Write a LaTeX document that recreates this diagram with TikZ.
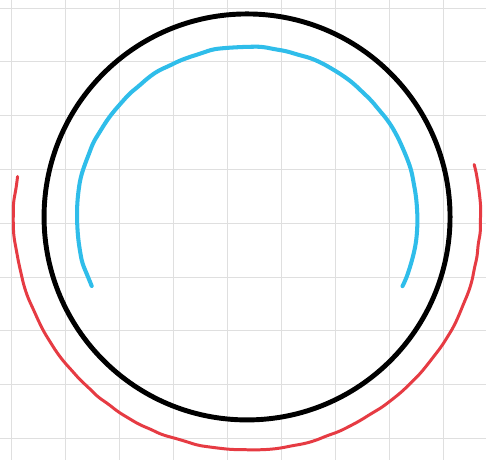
\documentclass[tikz,border=0pt]{standalone}
\usepackage{tikz}
\usetikzlibrary{decorations.pathmorphing}
\definecolor{arcblue}{HTML}{2FBDEA}
\definecolor{arcred}{HTML}{E63B43}

\begin{document}
\begin{tikzpicture}[scale=0.02,
    gridline/.style={draw=gray!25,line width=0.55pt},
    wobbly/.style={decorate,decoration={random steps,segment length=7pt,amplitude=0.4pt},rounded corners=3pt}]

\useasboundingbox[fill=white] (0,0) rectangle (486,460);

% Square grid in the background
\foreach \i in {0,...,8} {
  \draw[gridline] (11+54*\i,0) -- (11+54*\i,460);
  \draw[gridline] (0,452-53.8*\i) -- (486,452-53.8*\i);
}

% Centre of the picture
\coordinate (c) at (247,243);

% Black circle
\draw[line width=2.8pt] (c) circle (203);

% Blue arc inside, over the top
\draw[arcblue,line width=2.3pt,line cap=round,wobbly]
  ([shift={(204:170)}]c) arc[start angle=204,end angle=-24,radius=170];

% Red arc outside, under the bottom
\draw[arcred,line width=1.7pt,line cap=round,wobbly]
  ([shift={(170:233)}]c) arc[start angle=170,end angle=373,radius=233];

\end{tikzpicture}
\end{document}
